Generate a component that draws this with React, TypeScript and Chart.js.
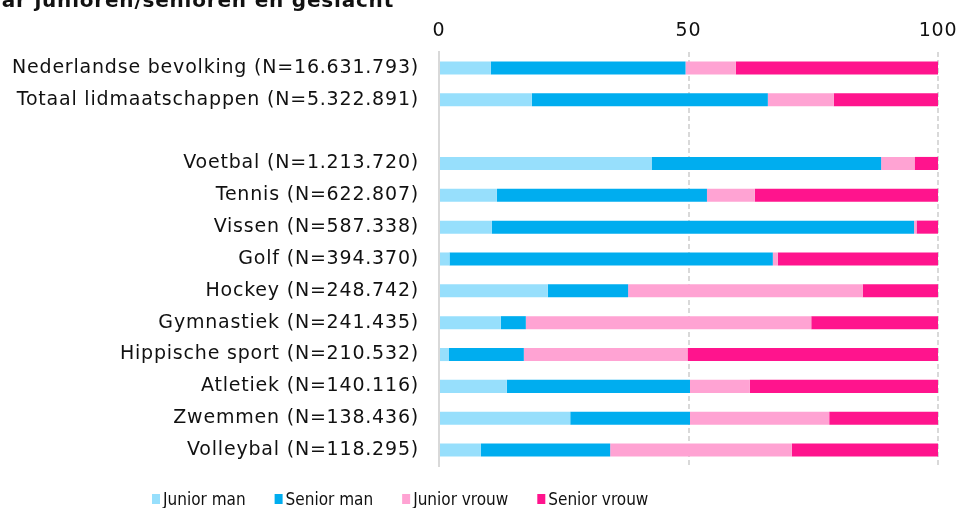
import React, { useEffect, useRef } from 'react';
import { Chart, registerables } from 'chart.js';

Chart.register(...registerables);

const categories = [
  'Nederlandse bevolking (N=16.631.793)',
  'Totaal lidmaatschappen (N=5.322.891)',
  '',
  'Voetbal (N=1.213.720)',
  'Tennis (N=622.807)',
  'Vissen (N=587.338)',
  'Golf (N=394.370)',
  'Hockey (N=248.742)',
  'Gymnastiek (N=241.435)',
  'Hippische sport (N=210.532)',
  'Atletiek (N=140.116)',
  'Zwemmen (N=138.436)',
  'Volleybal (N=118.295)',
];

const juniorMan = [10.4, 18.6, null, 42.6, 11.6, 10.6, 2.1, 21.8, 12.4, 2.0, 13.6, 26.3, 8.4];
const seniorMan = [39.0, 47.3, null, 46.0, 42.1, 84.6, 64.8, 16.1, 5.0, 15.0, 36.7, 24.0, 25.9];
const juniorVrouw = [10.1, 13.2, null, 6.7, 9.6, 0.5, 1.0, 47.0, 57.2, 32.8, 12.0, 27.9, 36.4];
const seniorVrouw = [40.5, 20.9, null, 4.7, 36.7, 4.3, 32.1, 15.1, 25.4, 50.2, 37.7, 21.8, 29.3];

const seriesLabels = ['Junior man', 'Senior man', 'Junior vrouw', 'Senior vrouw'];
const seriesColors = ['#97dffc', '#00adef', '#ffa3d3', '#ff148d'];
const xTickValues = [0, 50, 100];
const titleText = 'naar junioren/senioren en geslacht';

const FONT = '"DejaVu Sans", Verdana, sans-serif';
const LEGEND_FONT = '"DejaVu Sans Condensed", "DejaVu Sans", sans-serif';
const TEXT_COLOR = '#111111';
const GRID_COLOR = '#d9d9d9';
const AXIS_SPACING = '0.8px';

const letterSpacingPlugin = {
  id: 'letterSpacingPlugin',
  beforeUpdate(chart: any) {
    chart.ctx.letterSpacing = AXIS_SPACING;
  },
  beforeDraw(chart: any) {
    chart.ctx.letterSpacing = AXIS_SPACING;
  },
};

const titleLegendPlugin = {
  id: 'titleLegendPlugin',
  afterDraw(chart: any) {
    const ctx = chart.ctx;
    ctx.save();
    // title (partly cut off at top/left as in the reference)
    ctx.letterSpacing = '0.8px';
    ctx.font = `bold 20px ${FONT}`;
    ctx.fillStyle = TEXT_COLOR;
    ctx.textAlign = 'right';
    ctx.textBaseline = 'alphabetic';
    ctx.fillText(titleText, 394, 6.5);

    // legend
    ctx.letterSpacing = '0px';
    ctx.font = `17px ${LEGEND_FONT}`;
    ctx.textAlign = 'left';
    let x = 152;
    chart.data.datasets.forEach((ds: any) => {
      ctx.fillStyle = ds.backgroundColor;
      ctx.fillRect(x, 494, 8, 10);
      ctx.fillStyle = TEXT_COLOR;
      ctx.fillText(ds.label, x + 11, 505);
      x += 11 + ctx.measureText(ds.label).width + 29;
    });
    ctx.restore();
  },
};

export default function App() {
  const canvasRef = useRef<HTMLCanvasElement | null>(null);

  useEffect(() => {
    const canvas = canvasRef.current;
    if (!canvas) return;
    const seriesData = [juniorMan, seniorMan, juniorVrouw, seniorVrouw];
    const chart = new Chart(canvas, {
      type: 'bar',
      data: {
        labels: categories,
        datasets: seriesData.map((d, i) => ({
          label: seriesLabels[i],
          data: d,
          backgroundColor: seriesColors[i],
          borderWidth: 0,
          barPercentage: 0.41,
          categoryPercentage: 1,
        })),
      },
      options: {
        indexAxis: 'y',
        responsive: false,
        maintainAspectRatio: false,
        animation: false,
        layout: { padding: { top: 0, left: 0, right: 21, bottom: 42 } },
        plugins: {
          legend: { display: false },
          title: { display: false },
          tooltip: { enabled: false },
        },
        scales: {
          x: {
            position: 'top',
            stacked: true,
            min: 0,
            max: 100,
            afterBuildTicks: (scale: any) => {
              scale.ticks = xTickValues.map((v) => ({ value: v }));
            },
            afterFit: (scale: any) => {
              scale.height = 52;
              scale.paddingLeft = 0;
              scale.paddingRight = 0;
            },
            ticks: {
              font: { family: FONT, size: 19 },
              color: TEXT_COLOR,
              padding: 10,
              maxRotation: 0,
            },
            grid: {
              display: true,
              drawTicks: false,
              lineWidth: 2,
              color: (c: any) => (c.tick && c.tick.value === 0 ? 'rgba(0,0,0,0)' : GRID_COLOR),
            },
            border: { display: false, dash: [5, 3] },
          },
          y: {
            stacked: true,
            afterFit: (scale: any) => {
              scale.width = 439;
              scale.paddingTop = 0;
              scale.paddingBottom = 0;
            },
            ticks: {
              font: { family: FONT, size: 19 },
              color: TEXT_COLOR,
              padding: 20,
              autoSkip: false,
            },
            grid: { display: false, drawTicks: false },
            border: { display: true, color: GRID_COLOR, width: 2 },
          },
        },
      },
      plugins: [letterSpacingPlugin, titleLegendPlugin],
    } as any);
    return () => chart.destroy();
  }, []);

  return (
    <div style={{ position: 'absolute', left: 0, top: 0, width: 959, height: 508, background: '#ffffff' }}>
      <canvas ref={canvasRef} width={959} height={508} style={{ display: 'block', width: 959, height: 508 }} />
    </div>
  );
}
